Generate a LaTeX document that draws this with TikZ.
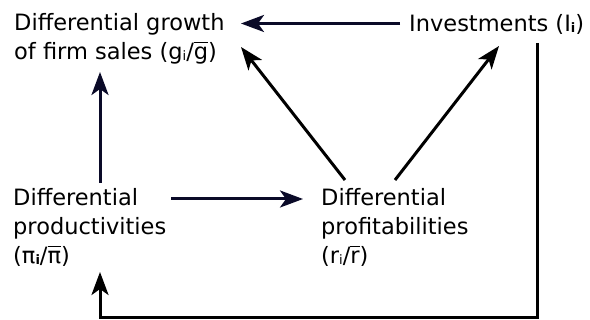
\documentclass[tikz,border=0pt]{standalone}
\usepackage{fontspec}
\setmainfont{DejaVu Sans}
\usetikzlibrary{arrows.meta}
\definecolor{navy}{RGB}{10,10,40}
\newcommand{\subi}{\raisebox{-1pt}{\fontsize{13}{13}\selectfont i}}
\newcommand{\subib}{\raisebox{-1pt}{\fontsize{13}{13}\selectfont\bfseries i}}
\newcommand{\ovl}[1]{\setbox0\hbox{#1}\rlap{\raisebox{17pt}{\rule{\wd0}{1.3pt}}}\box0}
\tikzset{
  lbl/.style={anchor=base west, inner sep=0pt, align=left, font=\fontsize{22.5}{29}\selectfont},
  arr/.style={line width=3pt, -{Stealth[length=23pt,width=17pt,inset=6pt]}},
}
\begin{document}
\begin{tikzpicture}[x=1pt,y=-1pt]
\useasboundingbox (0,0) rectangle (590,320);
% anchor = baseline of the last line
\node[lbl] (growth) at (14,60) {Differential growth\\of firm sales (g\subi/\ovl{g})};
\node[lbl] (inv) at (409,32) {Investments (I\subib)};
\node[lbl] (prod) at (13,264) {Differential\\productivities\\(π\subib/\ovl{π})};
\node[lbl] (prof) at (321,264) {Differential\\profitabilities\\(r\subi/\ovl{r})};
\coordinate (inv-w) at (400,23.5);
\coordinate (growth-e) at (241,23.5);
\coordinate (prod-n) at (100,183);
\coordinate (growth-s) at (100,72);
\coordinate (prod-e) at (171,199);
\coordinate (prof-w) at (303,199);
\coordinate (prof-nw) at (345,180);
\coordinate (growth-se) at (241,47);
\coordinate (prof-ne) at (395,180);
\coordinate (inv-sw) at (499,46);
\coordinate (inv-s) at (537,43);
\coordinate (corner-r) at (537,318);
\coordinate (corner-l) at (100,318);
\coordinate (prod-s) at (100,272);
\draw[arr, navy] (inv-w) -- (growth-e);
\draw[arr, navy] (prod-n) -- (growth-s);
\draw[arr, navy] (prod-e) -- (prof-w);
\draw[arr, black] (prof-nw) -- (growth-se);
\draw[arr, black] (prof-ne) -- (inv-sw);
\draw[arr, black, line join=miter] (inv-s) -- (corner-r) -- (corner-l) -- (prod-s);
\end{tikzpicture}
\end{document}
